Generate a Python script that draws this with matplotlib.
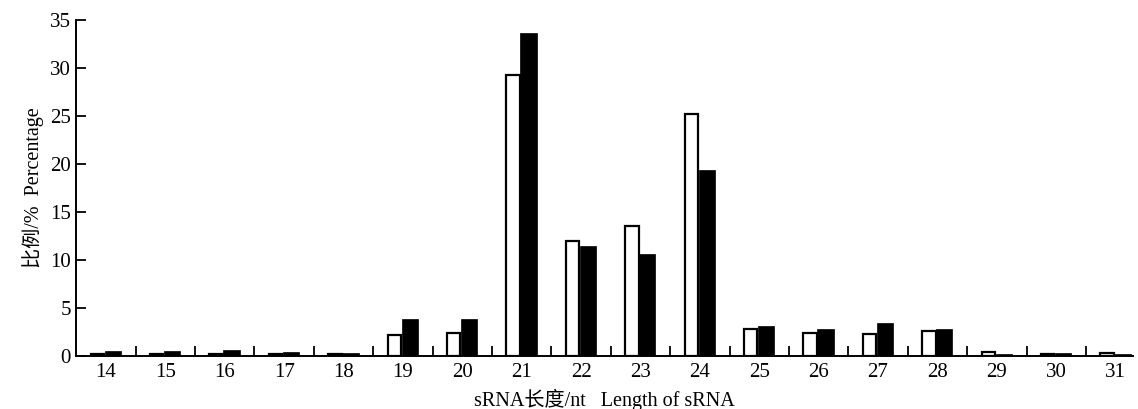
import matplotlib
matplotlib.use("Agg")
import matplotlib.pyplot as plt
import numpy as np

plt.rcParams['font.family'] = ['Liberation Serif', 'Noto Sans CJK SC']

lengths = [14, 15, 16, 17, 18, 19, 20, 21, 22, 23, 24, 25, 26, 27, 28, 29, 30, 31]
white_values = [0.2, 0.15, 0.15, 0.15, 0.15, 2.2, 2.4, 29.3, 12.0, 13.5, 25.2,
                2.8, 2.4, 2.3, 2.6, 0.35, 0.2, 0.3]
black_values = [0.5, 0.5, 0.6, 0.45, 0.3, 3.8, 3.8, 33.7, 11.4, 10.6, 19.4,
                3.1, 2.8, 3.4, 2.8, 0.2, 0.3, 0.2]

x = np.array(lengths)

fig = plt.figure(figsize=(11.38, 4.09), dpi=100)
ax = fig.add_axes([0.067, 0.13, 0.929, 0.821])

ax.bar(x - 0.145, white_values, 0.225, color='white',
       edgecolor='black', linewidth=1.6)
ax.bar(x + 0.115, black_values, 0.275, color='black',
       edgecolor='black', linewidth=0.5)

ax.set_xlim(13.5, 31.3)
ax.set_ylim(0, 35)
ax.set_yticks(range(0, 36, 5))

ax.set_xticks(x)
ax.set_xticklabels([str(v) for v in lengths], fontsize=15)
ax.tick_params(axis='x', which='major', length=0, pad=5)
ax.set_xticks(x[:-1] + 0.5, minor=True)
ax.tick_params(axis='x', which='minor', direction='in', length=7, width=1.3)
ax.tick_params(axis='y', direction='in', length=7, width=1.3, labelsize=15, pad=4)

for side in ['top', 'right']:
    ax.spines[side].set_visible(False)
for side in ['left', 'bottom']:
    ax.spines[side].set_linewidth(1.4)

ax.set_xlabel('sRNA长度/nt   Length of sRNA', fontsize=14.5, labelpad=5)
ax.set_ylabel('比例/%  Percentage', fontsize=14.5, labelpad=4)

fig.savefig('out.png', dpi=100)
plt.close(fig)
